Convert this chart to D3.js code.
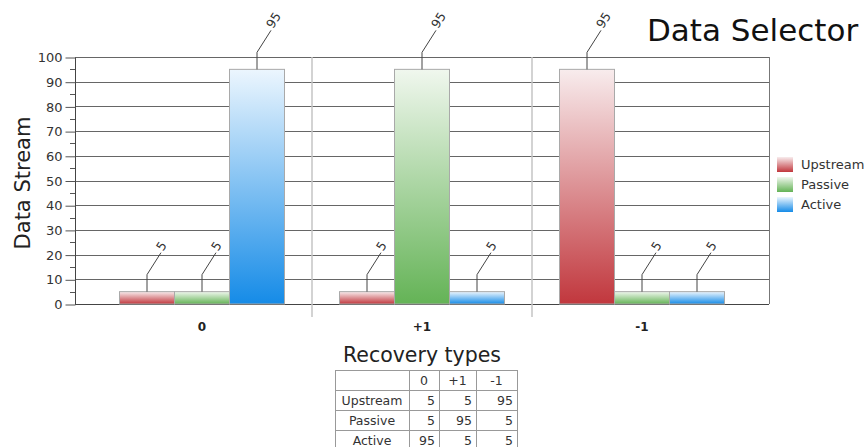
<!DOCTYPE html>
<html>
<head>
<meta charset="utf-8">
<script src="https://cdn.jsdelivr.net/npm/d3@7"></script>
<style>
  html, body { margin: 0; padding: 0; background: #fff; }
  svg { display: block; font-family: "DejaVu Sans", Verdana, sans-serif; }
</style>
</head>
<body>
<svg id="chart" width="864" height="447"></svg>
<script>
// Recovery types along the x axis, one bar per stream type in each group
const categories = ["0", "+1", "-1"];
const seriesNames = ["Upstream", "Passive", "Active"];
const upstreamValues = [5, 5, 95];
const passiveValues = [5, 95, 5];
const activeValues = [95, 5, 5];
const yTicks = [0, 10, 20, 30, 40, 50, 60, 70, 80, 90, 100];

const seriesValues = [upstreamValues, passiveValues, activeValues];
const palette = {
  Upstream: { top: "#f8eced", bottom: "#c1373d" },
  Passive:  { top: "#f0f7ee", bottom: "#64b356" },
  Active:   { top: "#ecf6fe", bottom: "#158be7" }
};

const svg = d3.select("#chart");
const plot = { left: 75, right: 769, top: 57, bottom: 304 };

const y = d3.scaleLinear().domain([0, 100]).range([plot.bottom, plot.top]);
const x0 = d3.scaleBand().domain(categories).range([92, 752]).padding(0);
const x1 = d3.scaleBand().domain(seriesNames).range([0, x0.bandwidth()])
  .paddingInner(0).paddingOuter(0.5);

// gradients for bars and legend swatches
const defs = svg.append("defs");
seriesNames.forEach(name => {
  const g = defs.append("linearGradient")
    .attr("id", "grad-" + name).attr("x1", 0).attr("y1", 0).attr("x2", 0).attr("y2", 1);
  g.append("stop").attr("offset", "0%").attr("stop-color", palette[name].top);
  g.append("stop").attr("offset", "100%").attr("stop-color", palette[name].bottom);
});

// horizontal gridlines
svg.append("g").selectAll("line").data(yTicks).join("line")
  .attr("x1", plot.left).attr("x2", plot.right)
  .attr("y1", d => Math.round(y(d)) + 0.5).attr("y2", d => Math.round(y(d)) + 0.5)
  .attr("stroke", d => d === 0 ? "#444" : "#666").attr("stroke-width", 1);

// right border
svg.append("line")
  .attr("x1", plot.right + 0.5).attr("x2", plot.right + 0.5)
  .attr("y1", plot.top).attr("y2", plot.bottom)
  .attr("stroke", "#777");

// group separators
const separators = categories.slice(1).map(c => x0(c));
svg.append("g").selectAll("line").data(separators).join("line")
  .attr("x1", d => d).attr("x2", d => d)
  .attr("y1", plot.top).attr("y2", plot.bottom + 13)
  .attr("stroke", "#c4c4c4").attr("stroke-width", 1.5);

// y axis with major and minor ticks
const yAxis = d3.axisLeft(y).tickValues(yTicks).tickSize(10).tickPadding(3);
const axisG = svg.append("g").attr("transform", `translate(${plot.left + 0.5},0.5)`).call(yAxis);
axisG.select(".domain").attr("stroke", "#444").attr("d", `M0,${plot.top}V${plot.bottom}`);
axisG.selectAll(".tick line").attr("stroke", "#555");
axisG.selectAll(".tick text").attr("fill", "#333").style("font-size", "13px")
  .style("font-family", "DejaVu Sans, Verdana, sans-serif");
const minor = d3.range(5, 100, 10);
svg.append("g").selectAll("line").data(minor).join("line")
  .attr("x1", plot.left - 5).attr("x2", plot.left)
  .attr("y1", d => Math.round(y(d)) + 0.5).attr("y2", d => Math.round(y(d)) + 0.5)
  .attr("stroke", "#555");

// bars
const rows = [];
categories.forEach((c, ci) => {
  seriesNames.forEach((s, si) => rows.push({ cat: c, series: s, value: seriesValues[si][ci] }));
});

const barG = svg.append("g");
barG.selectAll("rect").data(rows).join("rect")
  .attr("x", d => x0(d.cat) + x1(d.series))
  .attr("y", d => y(d.value))
  .attr("width", x1.bandwidth())
  .attr("height", d => y(0) - y(d.value))
  .attr("fill", d => `url(#grad-${d.series})`)
  .attr("stroke", "#a9a9a9").attr("stroke-width", 1);

// value labels with leader lines
const labelG = svg.append("g");
rows.forEach(d => {
  const cx = x0(d.cat) + x1(d.series) + x1.bandwidth() / 2;
  const top = y(d.value);
  const knee = top - 17;
  const ex = cx + 14, ey = knee - 22;
  labelG.append("path")
    .attr("d", `M${cx},${top}V${knee}L${ex},${ey}`)
    .attr("fill", "none").attr("stroke", "#444").attr("stroke-width", 1);
  labelG.append("text")
    .attr("transform", `translate(${ex + 2},${ey - 1}) rotate(-58)`)
    .attr("fill", "#333").style("font-size", "12.5px")
    .text(d.value);
});

// category labels
svg.append("g").selectAll("text").data(categories).join("text")
  .attr("x", d => x0(d) + x0.bandwidth() / 2).attr("y", 331)
  .attr("text-anchor", "middle").attr("font-weight", "bold")
  .attr("fill", "#222").style("font-size", "12px")
  .text(d => d);

// axis titles and chart title
svg.append("text")
  .attr("transform", `translate(30,183) rotate(-90)`)
  .attr("text-anchor", "middle").attr("fill", "#222").style("font-size", "21px")
  .text("Data Stream");
svg.append("text")
  .attr("x", x0.range()[0] + (x0.range()[1] - x0.range()[0]) / 2).attr("y", 362)
  .attr("text-anchor", "middle").attr("fill", "#222").style("font-size", "20.5px")
  .text("Recovery types");
svg.append("text")
  .attr("x", 647).attr("y", 41)
  .attr("fill", "#111").style("font-size", "31px")
  .text("Data Selector");

// legend
const legend = svg.append("g").attr("transform", "translate(777,157)");
seriesNames.forEach((s, i) => {
  const row = legend.append("g").attr("transform", `translate(0,${i * 20})`);
  row.append("rect").attr("width", 16).attr("height", 15)
    .attr("fill", `url(#grad-${s})`);
  row.append("text").attr("x", 24).attr("y", 12)
    .attr("fill", "#333").style("font-size", "13px").text(s);
});

// data table beneath the chart
const colEdges = [335, 409, 439, 476, 517];
const rowTop = 370, rowH = 20;
const tableRows = [["", ...categories]].concat(
  seriesNames.map((s, i) => [s, ...seriesValues[i].map(String)])
);
const table = svg.append("g");
table.append("rect")
  .attr("x", colEdges[0] + 0.5).attr("y", rowTop + 0.5)
  .attr("width", colEdges[4] - colEdges[0]).attr("height", rowH * tableRows.length + 10)
  .attr("fill", "#fff").attr("stroke", "#999");
colEdges.slice(1, 4).forEach(xe => {
  table.append("line").attr("x1", xe + 0.5).attr("x2", xe + 0.5)
    .attr("y1", rowTop).attr("y2", 447).attr("stroke", "#999");
});
tableRows.forEach((r, ri) => {
  if (ri > 0) {
    table.append("line").attr("x1", colEdges[0]).attr("x2", colEdges[4])
      .attr("y1", rowTop + ri * rowH + 0.5).attr("y2", rowTop + ri * rowH + 0.5)
      .attr("stroke", "#999");
  }
  r.forEach((cell, ci) => {
    const t = table.append("text")
      .attr("y", rowTop + ri * rowH + 15)
      .attr("fill", "#333").style("font-size", "12.5px").text(cell);
    if (ci === 0) {
      t.attr("x", (colEdges[0] + colEdges[1]) / 2).attr("text-anchor", "middle");
    } else if (ri === 0) {
      t.attr("x", (colEdges[ci] + colEdges[ci + 1]) / 2).attr("text-anchor", "middle");
    } else {
      t.attr("x", colEdges[ci + 1] - 4).attr("text-anchor", "end");
    }
  });
});
</script>
</body>
</html>
